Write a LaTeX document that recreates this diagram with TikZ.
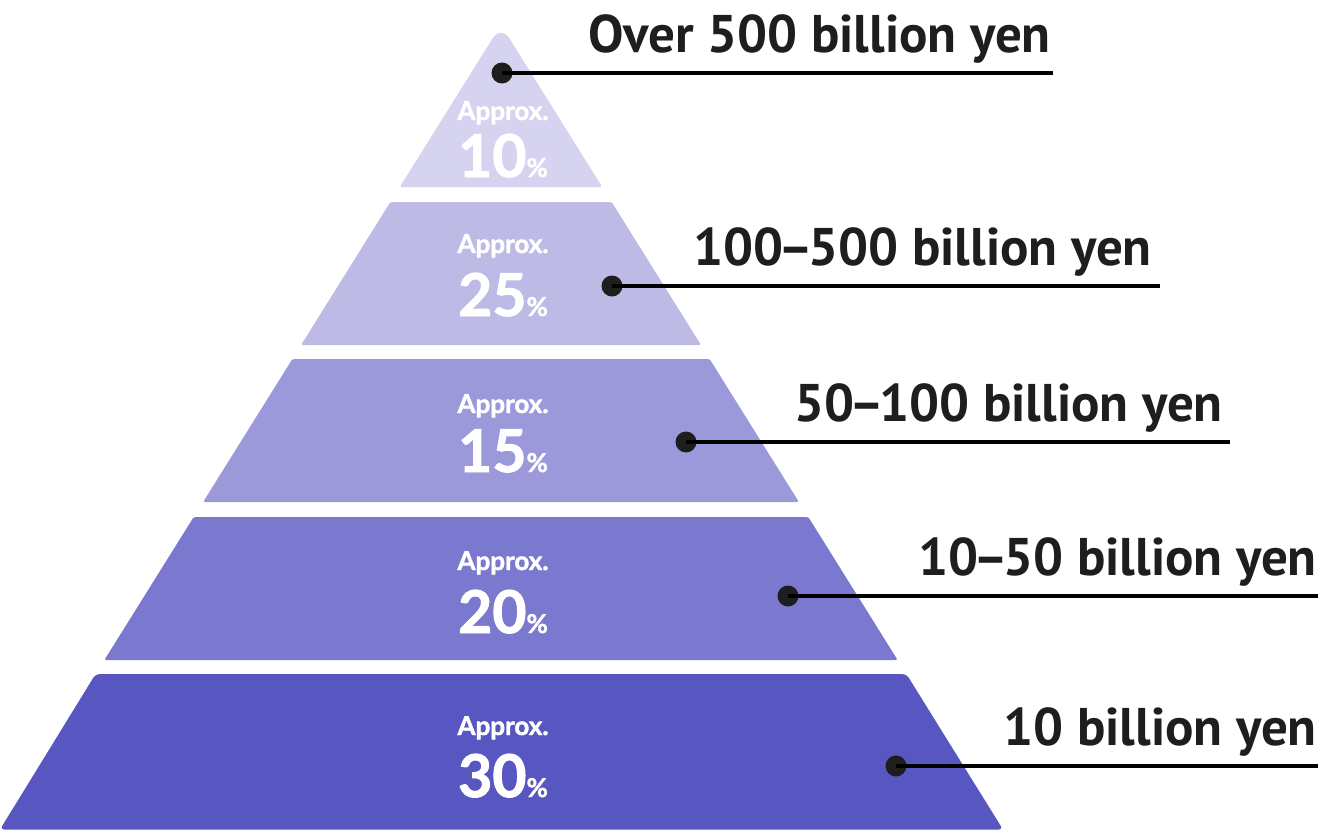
\documentclass[tikz,border=0pt]{standalone}
\usepackage{fontspec}
\setmainfont{PT Sans}
\newfontfamily\latofont{Lato}[BoldFeatures={FakeBold=1.6}]
\definecolor{tierA}{HTML}{D5D3EF}
\definecolor{tierB}{HTML}{BDBBE6}
\definecolor{tierC}{HTML}{9C99DB}
\definecolor{tierD}{HTML}{7A78CF}
\definecolor{tierE}{HTML}{5857C1}
\definecolor{ink}{HTML}{1E1E1E}
\tikzset{
  approx/.style={anchor=base, text=white, inner sep=0pt, font=\latofont\bfseries\fontsize{26}{26}\selectfont},
  pct/.style={anchor=base, text=white, inner sep=0pt, font=\latofont\bfseries\fontsize{59}{59}\selectfont},
  dot/.style={circle, fill=ink, minimum size=21pt, inner sep=0pt},
  leader/.style={draw=black, line width=4.5pt},
  lbl/.style={anchor=base east, text=ink, inner sep=0pt, font=\bfseries\fontsize{53}{53}\selectfont}
}
\newcommand{\pc}{{\fontsize{26}{26}\selectfont\%}}
\newcommand{\dsh}{\kern-5pt–\kern-5pt}
\begin{document}
\begin{tikzpicture}[x=1pt,y=-1pt]
\useasboundingbox (0,0) rectangle (1318,830);
\fill[white] (0,0) rectangle (1318,830);
% tiers
\fill[tierA, rounded corners=1.5pt] (501,187) -- (399.8,187) [rounded corners=16pt]-- (501,25) [rounded corners=1.5pt]-- (602.2,187) -- cycle;
\fill[tierB, rounded corners=1.5pt] (390.4,202) -- (611.6,202) -- (701,345) -- (301.1,345) -- cycle;
\fill[tierC, rounded corners=1.5pt] (292.4,359) -- (709.6,359) -- (798.9,502) -- (203.1,502) -- cycle;
\fill[tierD, rounded corners=1.5pt] (193.7,517) -- (808.3,517) -- (897.6,660) -- (104.4,660) -- cycle;
\fill[tierE, rounded corners=4pt] (95.6,674) -- (906.4,674) -- (1003,829.5) -- (0,829.5) -- cycle;
% inner labels
\node[approx] (a1) at (503,120) {Approx.};
\node[pct] (p1) at (503,177) {10\pc};
\node[approx] (a2) at (503,253) {Approx.};
\node[pct] (p2) at (503,316) {25\pc};
\node[approx] (a3) at (503,413) {Approx.};
\node[pct] (p3) at (503,472) {15\pc};
\node[approx] (a4) at (503,570) {Approx.};
\node[pct] (p4) at (503,633) {20\pc};
\node[approx] (a5) at (503,735) {Approx.};
\node[pct] (p5) at (503,797) {30\pc};
% leaders
\coordinate (e1) at (1053,73);
\coordinate (e2) at (1160,286);
\coordinate (e3) at (1230,442);
\coordinate (e4) at (1318,596);
\coordinate (e5) at (1318,766);
\node[dot] (d1) at (502,73) {};
\node[dot] (d2) at (612,286) {};
\node[dot] (d3) at (686,442) {};
\node[dot] (d4) at (788,596) {};
\node[dot] (d5) at (896,766) {};
\draw[leader] (d1.center) -- (e1);
\draw[leader] (d2.center) -- (e2);
\draw[leader] (d3.center) -- (e3);
\draw[leader] (d4.center) -- (e4);
\draw[leader] (d5.center) -- (e5);
% outer labels
\node[lbl] (t1) at (1051,52) {Over 500 billion yen};
\node[lbl] (t2) at (1152,265) {100\dsh500 billion yen};
\node[lbl] (t3) at (1223,421) {50\dsh100 billion yen};
\node[lbl] (t4) at (1317,575) {10\dsh50 billion yen};
\node[lbl] (t5) at (1317,745) {10 billion yen};
\end{tikzpicture}
\end{document}
